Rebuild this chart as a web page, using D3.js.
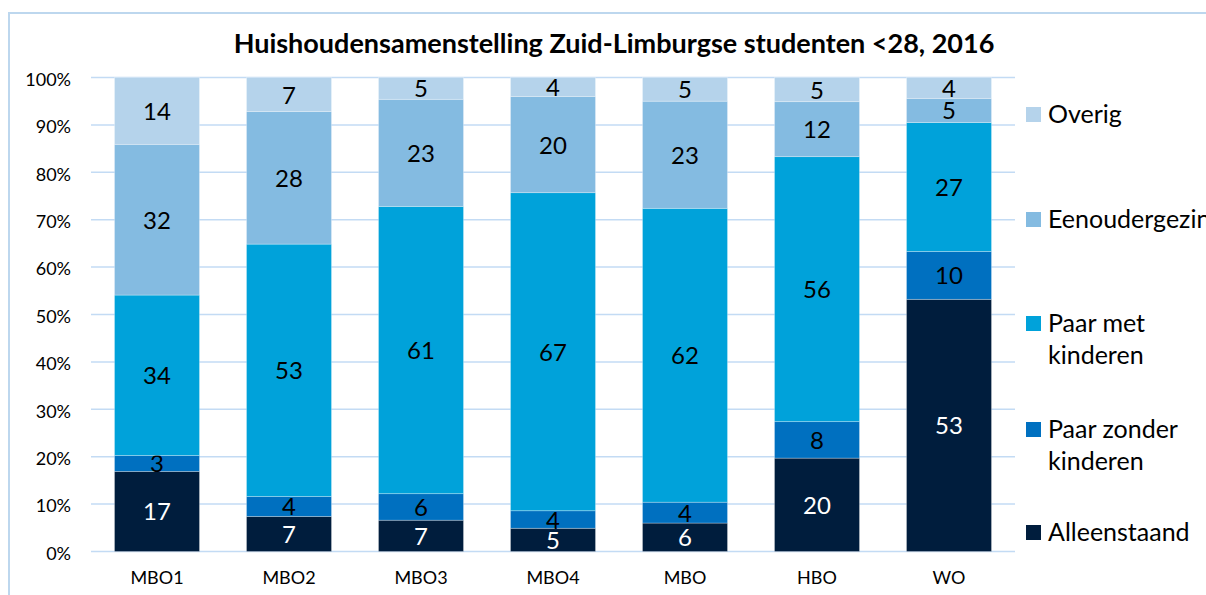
<!DOCTYPE html>
<html>
<head>
<meta charset="utf-8">
<script src="https://cdn.jsdelivr.net/npm/d3@7"></script>
<style>
  body { margin: 0; background: #fff; }
  text { font-family: Lato, "Open Sans", sans-serif; fill: #000; }
</style>
</head>
<body>
<div id="chart"></div>
<script>
var categories = ['MBO1', 'MBO2', 'MBO3', 'MBO4', 'MBO', 'HBO', 'WO'];

// percentages per series
var alleenstaand = [16.9, 7.4, 6.6, 4.9, 6.0, 19.7, 53.2];
var paarZonder   = [3.35, 4.2, 5.6, 3.7, 4.4, 7.7, 10.1];
var paarMet      = [33.85, 53.25, 60.6, 67.1, 62.0, 55.9, 27.2];
var eenouder     = [31.8, 27.95, 22.6, 20.3, 22.6, 11.6, 5.1];
var overig       = [14.1, 7.2, 4.6, 4.0, 5.0, 5.1, 4.4];

var seriesNames = ['Alleenstaand', 'Paar zonder kinderen', 'Paar met kinderen', 'Eenoudergezin', 'Overig'];
var seriesValues = [alleenstaand, paarZonder, paarMet, eenouder, overig];
var yTicks = [0, 10, 20, 30, 40, 50, 60, 70, 80, 90, 100];

var colors = ['#001d3d', '#0070c0', '#00a2da', '#84bbe1', '#b5d3eb'];

var chartWidth  = 1206;
var chartHeight = 595;
var plotLeft    = 91;
var plotRight   = 1015;
var plotTop     = 77.5;
var plotBottom  = 551.5;

var table = categories.map(function(c, i) {
	var row = { cat: c };
	seriesNames.forEach(function(s, j) {
		row[s] = seriesValues[j][i];
	});
	return row;
});

var stacked = d3.stack().keys(seriesNames)(table);

var x_scale = d3.scaleBand()
	.domain(categories)
	.range([plotLeft, plotRight])
	.paddingInner(0.356)
	.paddingOuter(0.178);

var y_scale = d3.scaleLinear()
	.domain([0, 100])
	.range([plotBottom, plotTop]);

var svg = d3.select('#chart')
	.append('svg')
	.attr('width', chartWidth)
	.attr('height', chartHeight);

// frame
svg.append('rect')
	.attr('x', 9).attr('y', 13)
	.attr('width', 1300).attr('height', 700)
	.attr('fill', 'none')
	.attr('stroke', '#bdd7ee')
	.attr('stroke-width', 2);

// title
svg.append('text')
	.attr('x', 614)
	.attr('y', 53)
	.attr('text-anchor', 'middle')
	.style('font-size', '27px')
	.style('font-weight', 'bold')
	.text('Huishoudensamenstelling Zuid-Limburgse studenten <28, 2016');

// gridlines
svg.append('g')
	.selectAll('line')
	.data(yTicks)
	.enter()
	.append('line')
	.attr('x1', plotLeft)
	.attr('x2', plotRight)
	.attr('y1', function(d) { return y_scale(d); })
	.attr('y2', function(d) { return y_scale(d); })
	.attr('stroke', '#c3dbf4')
	.attr('stroke-width', 1.5);

// y axis
var y_axis = d3.axisLeft(y_scale)
	.tickValues(yTicks)
	.tickSize(0)
	.tickPadding(0)
	.tickFormat(function(d) { return d + '%'; });

var gy = svg.append('g')
	.attr('transform', 'translate(71,2)')
	.call(y_axis);
gy.select('.domain').remove();
gy.selectAll('text')
	.style('font-size', '18px')
	.style('font-family', 'Lato, sans-serif')
	.attr('fill', '#000');

// x axis
var x_axis = d3.axisBottom(x_scale)
	.tickSize(0)
	.tickPadding(0);

var gx = svg.append('g')
	.attr('transform', 'translate(0,' + (plotBottom + 20) + ')')
	.call(x_axis);
gx.select('.domain').remove();
gx.selectAll('text')
	.style('font-size', '18px')
	.style('font-family', 'Lato, sans-serif')
	.attr('fill', '#000');

// bars
var layers = svg.append('g')
	.selectAll('g')
	.data(stacked)
	.enter()
	.append('g')
	.attr('fill', function(d, i) { return colors[i]; });

layers.selectAll('rect')
	.data(function(d) { return d; })
	.enter()
	.append('rect')
	.attr('x', function(d) { return x_scale(d.data.cat); })
	.attr('width', x_scale.bandwidth())
	.attr('y', function(d) { return y_scale(d[1]); })
	.attr('height', function(d) { return y_scale(d[0]) - y_scale(d[1]); })
	.attr('stroke', 'rgba(255,255,255,0.35)')
	.attr('stroke-width', 0.8);

// data labels
layers.selectAll('text')
	.data(function(d, i) { return d.map(function(p) { return { p: p, i: i }; }); })
	.enter()
	.append('text')
	.attr('x', function(d) { return x_scale(d.p.data.cat) + x_scale.bandwidth() / 2; })
	.attr('y', function(d) { return (y_scale(d.p[0]) + y_scale(d.p[1])) / 2 + 9; })
	.attr('text-anchor', 'middle')
	.style('font-size', '24px')
	.style('fill', function(d) { return d.i === 0 ? '#fff' : '#000'; })
	.text(function(d) { return d3.format('.0f')(d.p[1] - d.p[0]); });

// legend
var legendTop = [107, 212, 316, 422, 525];
var legendLines = [['Overig'], ['Eenoudergezin'], ['Paar met', 'kinderen'], ['Paar zonder', 'kinderen'], ['Alleenstaand']];
var legendColors = colors.slice().reverse();

var legend = svg.append('g')
	.selectAll('g')
	.data(legendLines)
	.enter()
	.append('g')
	.attr('transform', function(d, i) { return 'translate(1026,' + legendTop[i] + ')'; });

legend.append('rect')
	.attr('width', 15)
	.attr('height', 15)
	.attr('fill', function(d, i) { return legendColors[i]; });

legend.each(function(lines) {
	var t = d3.select(this).append('text')
		.attr('x', 22)
		.attr('y', 16)
		.style('font-size', '25px');
	lines.forEach(function(l, k) {
		t.append('tspan')
			.attr('x', 22)
			.attr('dy', k === 0 ? 0 : 32)
			.text(l);
	});
});
</script>
</body>
</html>
